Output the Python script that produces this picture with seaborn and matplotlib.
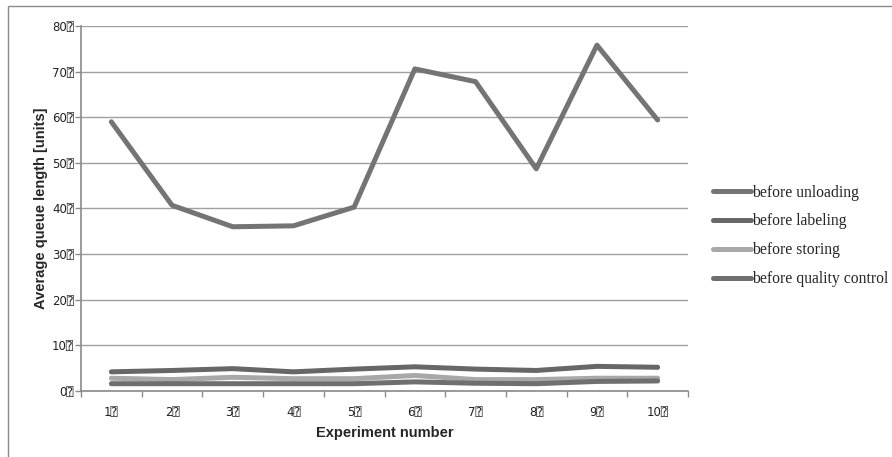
import matplotlib
matplotlib.use("Agg")
import matplotlib.pyplot as plt
import matplotlib.patches as mpatches
import seaborn as sns
import pandas as pd

experiments = [1, 2, 3, 4, 5, 6, 7, 8, 9, 10]
before_unloading = [59.0, 40.7, 36.0, 36.2, 40.3, 70.6, 67.8, 48.7, 75.8, 59.4]
before_labeling = [4.2, 4.5, 4.9, 4.2, 4.8, 5.3, 4.8, 4.5, 5.4, 5.2]
before_storing = [2.8, 2.5, 3.0, 2.7, 2.7, 3.4, 2.5, 2.5, 2.8, 2.8]
before_quality = [1.6, 1.6, 1.6, 1.6, 1.6, 2.0, 1.7, 1.6, 2.1, 2.2]
series_names = ["before unloading", "before labeling", "before storing", "before quality control"]
colors = ["#747474", "#676767", "#a8a8a8", "#6f6f6f"]
x_labels = [f"{e}\u2370" for e in experiments]
y_ticks = [0, 10, 20, 30, 40, 50, 60, 70, 80]
y_labels = [f"{v}\u2370" for v in y_ticks]

rows = []
for name, vals in zip(series_names, [before_unloading, before_labeling, before_storing, before_quality]):
    for e, v in zip(experiments, vals):
        rows.append({"Experiment": e, "Value": v, "Series": name})
df = pd.DataFrame(rows)

sns.set_theme(style="white")
tick_fam = ['DejaVu Sans', 'DejaVu Sans Mono', 'Noto Sans', 'Noto Sans CJK SC']
plt.rcParams['font.family'] = tick_fam

fig = plt.figure(figsize=(8.92, 4.57), dpi=100)
ax = fig.add_axes([81/892, 1 - 391/457, (688 - 81)/892, (391 - 26)/457])

# outer frame
fig.patches.append(mpatches.Rectangle((8/892, -0.1), 1.2, 1 - 6/457 + 0.1, transform=fig.transFigure,
                                      fill=False, edgecolor="#8a8a8a", linewidth=1.0))

sns.lineplot(data=df, x="Experiment", y="Value", hue="Series", hue_order=series_names,
             palette=colors, linewidth=3.6, ax=ax, legend=True, solid_capstyle="round")

ax.set_xlim(0.5, 10.5)
ax.set_ylim(0, 80)
ax.set_yticks(y_ticks)
ax.set_yticklabels(y_labels, fontsize=8.5, color="#222222", family=tick_fam)
ax.set_xticks(experiments)
ax.set_xticklabels(x_labels, fontsize=8.5, color="#222222", family=tick_fam)
ax.set_xticks([i + 0.5 for i in range(0, 11)], minor=True)
ax.tick_params(axis="x", which="major", length=0, pad=11)
ax.tick_params(axis="x", which="minor", length=4, color="#8a8a8a", width=1, direction="out", bottom=True)
ax.tick_params(axis="y", which="major", length=4, color="#8a8a8a", width=1, direction="out", left=True, pad=1)

ax.yaxis.grid(True, color="#a0a0a0", linewidth=1.0)
ax.xaxis.grid(False)
ax.set_axisbelow(True)
for s in ["top", "right"]:
    ax.spines[s].set_visible(False)
for s in ["left", "bottom"]:
    ax.spines[s].set_color("#8a8a8a")
    ax.spines[s].set_linewidth(1.2)

lab_fam = ['Liberation Sans Narrow', 'Liberation Sans']
ax.set_xlabel("Experiment number", fontsize=10.5, fontweight="bold", family=lab_fam, labelpad=5)
ax.set_ylabel("Average queue length [units]", fontsize=10.5, fontweight="bold", family=lab_fam, labelpad=3)

leg = ax.legend(loc="center left", bbox_to_anchor=(1.031, 0.425), frameon=False,
                prop={"family": ["Liberation Serif"], "size": 11.3},
                handlelength=2.4, handletextpad=0.1, labelspacing=0.82, borderaxespad=0.0)
for line in leg.get_lines():
    line.set_linewidth(3.6)
    line.set_solid_capstyle("round")

fig.savefig("out.png", dpi=100)
